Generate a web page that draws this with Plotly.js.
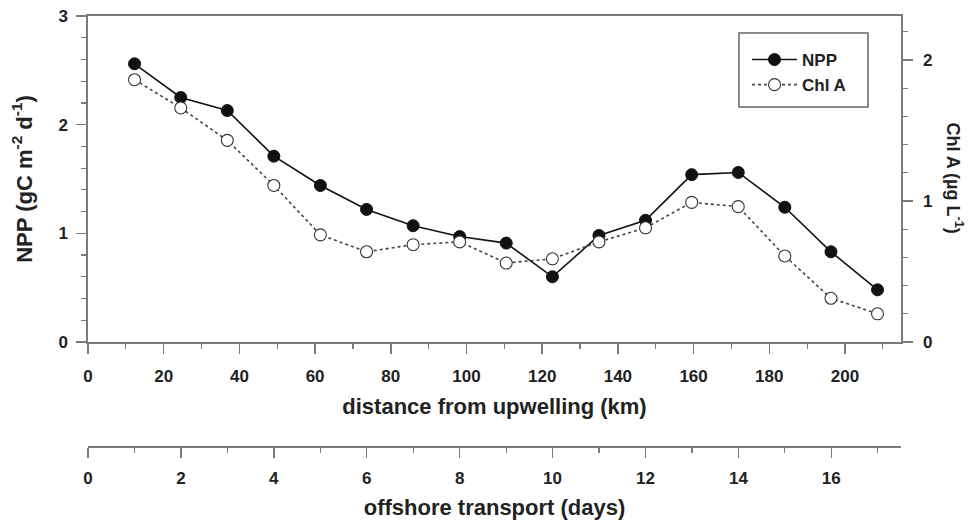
<!DOCTYPE html>
<html>
<head>
<meta charset="utf-8">
<script src="https://cdn.plot.ly/plotly-3.0.1.min.js"></script>
<style>
html,body{margin:0;padding:0;background:#fff;}
#chart{width:968px;height:520px;}
</style>
</head>
<body>
<div id="chart"></div>
<script>
// Data
var distanceKm = [12.3, 24.5, 36.8, 49.1, 61.4, 73.6, 85.9, 98.2, 110.5, 122.7, 135.0, 147.3, 159.5, 171.8, 184.1, 196.3, 208.6];
var nppValues = [2.56, 2.25, 2.13, 1.71, 1.44, 1.22, 1.07, 0.97, 0.91, 0.60, 0.98, 1.12, 1.54, 1.56, 1.24, 0.83, 0.48];
var chlValues = [1.86, 1.66, 1.43, 1.11, 0.76, 0.64, 0.69, 0.71, 0.56, 0.59, 0.71, 0.81, 0.99, 0.96, 0.61, 0.31, 0.20];
var seriesNames = ["NPP", "Chl A"];
var kmTicks = [0, 20, 40, 60, 80, 100, 120, 140, 160, 180, 200];
var dayTicks = [0, 2, 4, 6, 8, 10, 12, 14, 16];

var FONT = "Liberation Sans, Arial, sans-serif";
var TXT = "#222";
var AX = "#7a7a7a";

var traces = [
  {
    x: distanceKm, y: nppValues, name: seriesNames[0],
    type: "scatter", mode: "lines+markers",
    xaxis: "x", yaxis: "y",
    line: {color: "#111", width: 1.6},
    marker: {symbol: "circle", size: 12, color: "#111", line: {color: "#111", width: 1}}
  },
  {
    x: distanceKm, y: chlValues, name: seriesNames[1],
    type: "scatter", mode: "lines+markers",
    xaxis: "x", yaxis: "y2",
    line: {color: "#444", width: 1.6, dash: "dot"},
    marker: {symbol: "circle", size: 12, color: "#fff", line: {color: "#333", width: 1.1}}
  },
  {
    x: [], y: [], xaxis: "x2", yaxis: "y", showlegend: false, hoverinfo: "skip",
    type: "scatter", mode: "markers"
  }
];

var tickFont = {family: FONT, size: 17, color: TXT, weight: "bold"};
var titleFont = {family: FONT, size: 22, color: TXT, weight: "bold"};

var commonAxis = {
  showline: true, linecolor: AX, linewidth: 1.6,
  ticks: "outside", ticklen: 10, tickwidth: 1.5, tickcolor: AX,
  showgrid: false, zeroline: false, tickfont: tickFont
};
var minorTicks = function (d) {
  return {dtick: d, ticklen: 5, tickcolor: AX, tickwidth: 1.2, ticks: "outside"};
};

var layout = {
  width: 968, height: 520,
  margin: {l: 88, r: 67, t: 16, b: 74},
  paper_bgcolor: "#fff", plot_bgcolor: "#fff",
  showlegend: true,
  legend: {
    x: 0.8106, y: 0.9395, xanchor: "left", yanchor: "top",
    borderwidth: 0, bgcolor: "rgba(0,0,0,0)", itemwidth: 45,
    font: {family: FONT, size: 17, color: TXT, weight: "bold"},
    tracegroupgap: 0
  },
  shapes: [
    {type: "rect", xref: "paper", yref: "paper",
     x0: 0.8007, x1: 0.9594, y0: 0.7884, y1: 0.9605,
     line: {color: "#666", width: 1.5}, fillcolor: "rgba(0,0,0,0)", layer: "above"}
  ],
  xaxis: Object.assign({}, commonAxis, {
    range: [0, 214.8], anchor: "y", mirror: true,
    tickmode: "array", tickvals: kmTicks, ticklabelstandoff: 8,
    minor: minorTicks(10),
    title: {text: "distance from upwelling (km)", font: titleFont, standoff: 13}
  }),
  xaxis2: Object.assign({}, commonAxis, {
    range: [0, 17.5], anchor: "free", position: 0, overlaying: "x", side: "bottom",
    tickmode: "array", tickvals: dayTicks, ticklabelstandoff: 6,
    minor: minorTicks(1),
    title: {text: "offshore transport (days)", font: titleFont, standoff: 17}
  }),
  yaxis: Object.assign({}, commonAxis, {
    range: [0, 3], domain: [0.2419, 1], anchor: "x",
    dtick: 1, tick0: 0, ticklabelstandoff: 5,
    minor: minorTicks(0.2),
    title: {text: "NPP (gC m<sup>-2</sup> d<sup>-1</sup>)", font: titleFont, standoff: 20}
  }),
  yaxis2: Object.assign({}, commonAxis, {
    range: [0, 2.312], overlaying: "y", side: "right", anchor: "x",
    dtick: 1, tick0: 0, ticklabelstandoff: 7,
    minor: minorTicks(0.2)
  }),
  annotations: [
    {
      text: "Chl A (µg L<sup>-1</sup>)", textangle: 90,
      xref: "paper", yref: "paper", x: 1.066, y: 0.623,
      xanchor: "center", yanchor: "middle", showarrow: false,
      font: {family: FONT, size: 18, color: TXT, weight: "bold"}
    }
  ]
};

Plotly.newPlot("chart", traces, layout, {displayModeBar: false, staticPlot: true});
</script>
</body>
</html>
